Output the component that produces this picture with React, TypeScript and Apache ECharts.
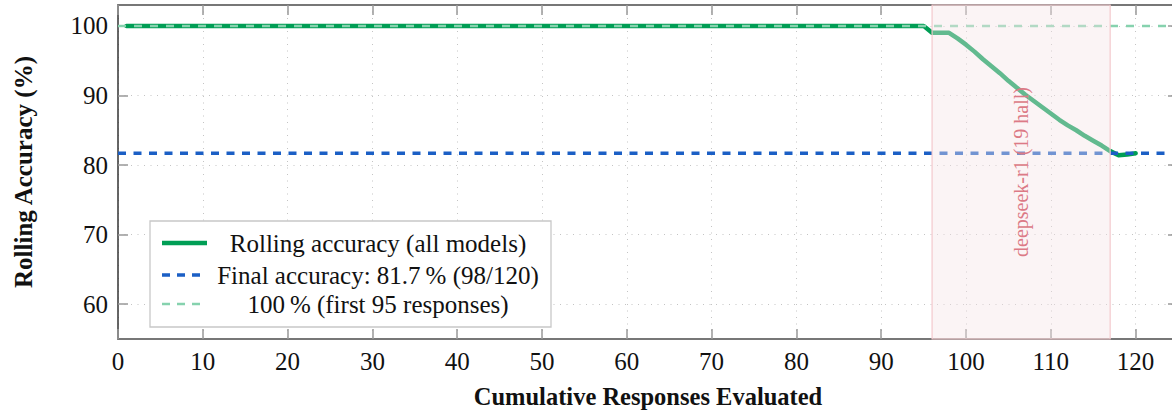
import React, { useEffect, useRef } from "react";
import * as echarts from "echarts";

// ---- data ----
const responses = [1, 95, 96, 97, 98, 99, 100, 101, 102, 103, 104, 105, 106, 107, 108, 109, 110, 111, 112, 113, 114, 115, 116, 117, 118, 119, 120];
const rollingAccuracy = [100, 100, 99.0, 99.0, 99.0, 98.2, 97.3, 96.3, 95.2, 94.2, 93.2, 92.1, 91.1, 90.1, 89.2, 88.3, 87.4, 86.5, 85.7, 85.0, 84.2, 83.5, 82.8, 82.0, 81.4, 81.5, 81.7];
const finalAccuracy = 81.7;
const perfectAccuracy = 100;
const xTicks = [0, 10, 20, 30, 40, 50, 60, 70, 80, 90, 100, 110, 120];
const yTicks = [60, 70, 80, 90, 100];
const xRange = [0, 125];
const yRange = [55, 103];
const hallucinationSpan = [96, 117];
const hallucinationLabel = "deepseek-r1 (19 hall)";
const legendLabels = [
  "Rolling accuracy (all models)",
  "Final accuracy: 81.7\u2009% (98/120)",
  "100\u2009% (first 95 responses)",
];

const FONT = "'Liberation Serif', 'Times New Roman', serif";
const GREEN = "#009e55";
const BLUE = "#1b5fc5";
const LIGHT_GREEN = "#86d2ae";
const FRAME = "#777";
const TICK = "#999";

export default function App() {
  const ref = useRef<HTMLDivElement>(null);

  useEffect(() => {
    if (!ref.current) return;
    const chart = echarts.init(ref.current, undefined, { renderer: "svg" });

    const frameAxisX = (pos: "top" | "bottom", main: boolean) => ({
      type: "value",
      position: pos,
      min: xRange[0],
      max: xRange[1],
      interval: 10,
      axisLine: { show: true, onZero: false, lineStyle: { color: FRAME, width: 2 } },
      axisTick: {
        show: true,
        inside: true,
        length: 10,
        customValues: xTicks,
        lineStyle: { color: TICK, width: 1.5 },
      },
      axisLabel: main
        ? {
            show: true,
            customValues: xTicks,
            fontFamily: FONT,
            fontSize: 25,
            color: "#111",
            margin: 10,
          }
        : { show: false },
      splitLine: main
        ? { show: true, lineStyle: { color: "#c4c4c4", width: 1, type: [1, 5.5] } }
        : { show: false },
      ...(main
        ? {
            name: "Cumulative Responses Evaluated",
            nameLocation: "middle",
            nameGap: 45,
            nameTextStyle: { fontFamily: FONT, fontWeight: "bold", fontSize: 24.5, color: "#111" },
          }
        : {}),
    });

    const frameAxisY = (pos: "left" | "right", main: boolean) => ({
      type: "value",
      position: pos,
      min: yRange[0],
      max: yRange[1],
      axisLine: {
        show: true,
        onZero: false,
        lineStyle: { color: main ? "#333" : FRAME, width: main ? 1.5 : 2 },
      },
      axisTick: {
        show: true,
        inside: true,
        length: 10,
        customValues: yTicks,
        lineStyle: { color: TICK, width: 1.5 },
      },
      axisLabel: main
        ? {
            show: true,
            customValues: yTicks,
            fontFamily: FONT,
            fontSize: 25,
            color: "#111",
            margin: 10,
          }
        : { show: false },
      splitLine: main
        ? { show: true, lineStyle: { color: "#c4c4c4", width: 1, type: [1, 5.5] } }
        : { show: false },
      ...(main
        ? {
            name: "Rolling Accuracy (%)",
            nameLocation: "middle",
            nameGap: 82,
            nameTextStyle: { fontFamily: FONT, fontWeight: "bold", fontSize: 25, color: "#111" },
          }
        : {}),
    });

    const legendY = [243, 275, 304];
    const legendGraphics: any[] = [
      {
        type: "rect",
        z: 20,
        shape: { x: 150, y: 221, width: 401, height: 106 },
        style: { fill: "#fff", stroke: "#c8c8c8", lineWidth: 1.3 },
      },
      {
        type: "line",
        z: 21,
        shape: { x1: 162, y1: legendY[0], x2: 207, y2: legendY[0] },
        style: { stroke: GREEN, lineWidth: 4.5 },
      },
      {
        type: "line",
        z: 21,
        shape: { x1: 162, y1: legendY[1], x2: 207, y2: legendY[1] },
        style: { stroke: BLUE, lineWidth: 3.5, lineDash: [8, 7] },
      },
      {
        type: "line",
        z: 21,
        shape: { x1: 162, y1: legendY[2], x2: 207, y2: legendY[2] },
        style: { stroke: LIGHT_GREEN, lineWidth: 2.5, lineDash: [8, 7] },
      },
      ...legendLabels.map((t, i) => ({
        type: "text",
        z: 21,
        x: 378,
        y: legendY[i],
        style: {
          text: t,
          fill: "#111",
          font: `25px ${FONT}`,
          align: "center",
          verticalAlign: "middle",
          textAlign: "center",
          textVerticalAlign: "middle",
        },
      })),
    ];

    const option: any = {
      animation: false,
      backgroundColor: "#fff",
      grid: {
        left: 118,
        right: 2,
        top: 5,
        bottom: 72,
        containLabel: false,
        outerBoundsMode: "none",
      },
      xAxis: [frameAxisX("bottom", true), frameAxisX("top", false)],
      yAxis: [frameAxisY("left", true), frameAxisY("right", false)],
      series: [
        {
          name: legendLabels[0],
          type: "line",
          xAxisIndex: 0,
          yAxisIndex: 0,
          data: responses.map((x, i) => [x, rollingAccuracy[i]]),
          symbol: "none",
          showSymbol: false,
          lineStyle: { color: GREEN, width: 4.5, join: "round", cap: "round" },
          z: 2,
        },
        {
          name: legendLabels[1],
          type: "line",
          xAxisIndex: 0,
          yAxisIndex: 0,
          data: [
            [xRange[0], finalAccuracy],
            [xRange[1], finalAccuracy],
          ],
          symbol: "none",
          showSymbol: false,
          lineStyle: { color: BLUE, width: 3.5, type: [8, 7.5] },
          z: 3,
        },
        {
          name: legendLabels[2],
          type: "line",
          xAxisIndex: 0,
          yAxisIndex: 0,
          data: [
            [xRange[0], perfectAccuracy],
            [xRange[1], perfectAccuracy],
          ],
          symbol: "none",
          showSymbol: false,
          lineStyle: { color: LIGHT_GREEN, width: 2.5, type: [8, 8] },
          z: 4,
          markArea: {
            z: 10,
            silent: true,
            itemStyle: {
              color: "rgba(245,228,230,0.4)",
              borderColor: "#f4c9cd",
              borderWidth: 1.2,
            },
            label: {
              show: true,
              position: "inside",
              rotate: 90,
              formatter: "{b}",
              fontFamily: FONT,
              fontSize: 20,
              color: "#dc7a86",
            },
            data: [
              [
                { name: hallucinationLabel, xAxis: hallucinationSpan[0] },
                { xAxis: hallucinationSpan[1] },
              ],
            ],
          },
        },
      ],
      graphic: legendGraphics,
    };

    chart.setOption(option);
    return () => chart.dispose();
  }, []);

  return (
    <div
      style={{
        position: "absolute",
        left: 0,
        top: 0,
        width: 1172,
        height: 411,
        overflow: "hidden",
        background: "#fff",
      }}
    >
      <div ref={ref} style={{ width: 1180, height: 411 }} />
    </div>
  );
}
